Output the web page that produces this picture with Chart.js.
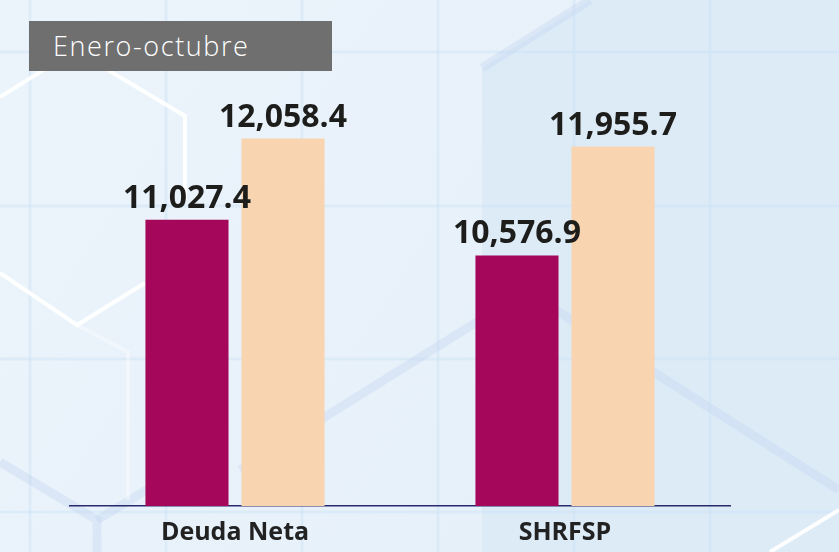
<!DOCTYPE html>
<html>
<head>
<meta charset="utf-8">
<script src="https://cdn.jsdelivr.net/npm/chart.js@4.4.1/dist/chart.umd.min.js"></script>
<style>
  html, body { margin: 0; padding: 0; background: #e8f1fa; }
  #wrap { position: relative; width: 839px; height: 552px; }
  #periodo {
    position: absolute; left: 29px; top: 21px; width: 303px; height: 50px;
    background: #6f6f6f; color: #fff;
    font: 300 27px "Open Sans", Lato, sans-serif; letter-spacing: 1.6px;
    line-height: 50px; box-sizing: border-box; padding-left: 24px;
  }
</style>
</head>
<body>
<div id="wrap">
  <canvas id="chart" width="839" height="552"></canvas>
  <div id="periodo">Enero-octubre</div>
</div>
<script>
// categorias y valores (miles de millones de pesos)
const categorias = ['Deuda Neta', 'SHRFSP'];
const serieAnterior = [11027.4, 10576.9];
const serieActual = [12058.4, 11955.7];
const colores = ['#a5075a', '#f8d5b0'];

const fmt = v => v.toLocaleString('en-US', { minimumFractionDigits: 1, maximumFractionDigits: 1 });

// fondo decorativo (hexagonos y cuadricula)
const fondo = {
  id: 'fondo',
  beforeDraw(chart) {
    const ctx = chart.ctx;
    const w = chart.width, h = chart.height;
    ctx.save();
    let g = ctx.createLinearGradient(0, 0, w, h);
    g.addColorStop(0, '#ecf4fb');
    g.addColorStop(1, '#e4eff9');
    ctx.fillStyle = g;
    ctx.fillRect(0, 0, w, h);

    // zona derecha mas azul
    ctx.fillStyle = '#ddebf7';
    ctx.beginPath();
    ctx.moveTo(482, 68); ctx.lineTo(590, 0); ctx.lineTo(w, 0);
    ctx.lineTo(w, h); ctx.lineTo(482, h); ctx.closePath();
    ctx.fill();

    // cuadricula tenue
    ctx.strokeStyle = 'rgba(205,226,244,0.45)';
    ctx.lineWidth = 3;
    [30, 166, 302, 438, 574, 710].forEach(x => {
      ctx.beginPath(); ctx.moveTo(x, 0); ctx.lineTo(x, h); ctx.stroke();
    });
    [52, 206, 359, 512].forEach(y => {
      ctx.beginPath(); ctx.moveTo(0, y); ctx.lineTo(w, y); ctx.stroke();
    });

    // lineas azules gruesas
    ctx.strokeStyle = 'rgba(195,214,238,0.38)';
    ctx.lineWidth = 9;
    ctx.lineCap = 'butt';
    const azules = [
      [[0, 462], [97, 520], [97, 552]],
      [[97, 520], [150, 488]],
      [[240, 470], [480, 320]],
      [[540, 300], [839, 490]],
      [[482, 68], [590, 0]]
    ];
    azules.forEach(p => {
      ctx.beginPath(); ctx.moveTo(p[0][0], p[0][1]);
      p.slice(1).forEach(q => ctx.lineTo(q[0], q[1]));
      ctx.stroke();
    });

    // lineas blancas
    ctx.strokeStyle = 'rgba(255,255,255,0.95)';
    ctx.lineWidth = 4;
    const blancas = [
      [[0, 97], [45, 69]],
      [[108, 70], [185, 116], [185, 200]],
      [[0, 273], [77, 325], [145, 283]],
      [[770, 552], [839, 510]]
    ];
    blancas.forEach(p => {
      ctx.beginPath(); ctx.moveTo(p[0][0], p[0][1]);
      p.slice(1).forEach(q => ctx.lineTo(q[0], q[1]));
      ctx.stroke();
    });
    ctx.strokeStyle = 'rgba(255,255,255,0.35)';
    ctx.beginPath(); ctx.moveTo(77, 325); ctx.lineTo(128, 352); ctx.lineTo(128, 500); ctx.stroke();
    ctx.restore();
  }
};

// etiquetas de valor sobre cada barra
const etiquetas = {
  id: 'etiquetas',
  afterDatasetsDraw(chart) {
    const ctx = chart.ctx;
    ctx.save();
    ctx.font = 'bold 32px "Open Sans", sans-serif';
    ctx.fillStyle = '#1d1d1b';
    ctx.textAlign = 'center';
    ctx.textBaseline = 'alphabetic';
    chart.data.datasets.forEach((ds, i) => {
      chart.getDatasetMeta(i).data.forEach((bar, j) => {
        ctx.fillText(fmt(ds.data[j]), bar.x, bar.y - 12);
      });
    });
    ctx.restore();
  }
};

new Chart(document.getElementById('chart'), {
  type: 'bar',
  data: {
    labels: categorias,
    datasets: [
      { data: serieAnterior, backgroundColor: colores[0] },
      { data: serieActual, backgroundColor: colores[1] }
    ]
  },
  options: {
    responsive: false,
    animation: false,
    layout: { padding: { left: 70, right: 109, top: 80, bottom: -8 } },
    categoryPercentage: 0.582,
    barPercentage: 0.865,
    plugins: { legend: { display: false }, tooltip: { enabled: false } },
    scales: {
      y: { display: false, min: 7400, max: 12800 },
      x: {
        grid: { display: false, drawTicks: false },
        border: { color: '#2b2a6e', width: 1.5 },
        ticks: {
          color: '#222',
          padding: 12,
          font: { family: '"Open Sans", sans-serif', weight: 'bold', size: 25, lineHeight: 1.2 }
        }
      }
    }
  },
  plugins: [fondo, etiquetas]
});
</script>
</body>
</html>
